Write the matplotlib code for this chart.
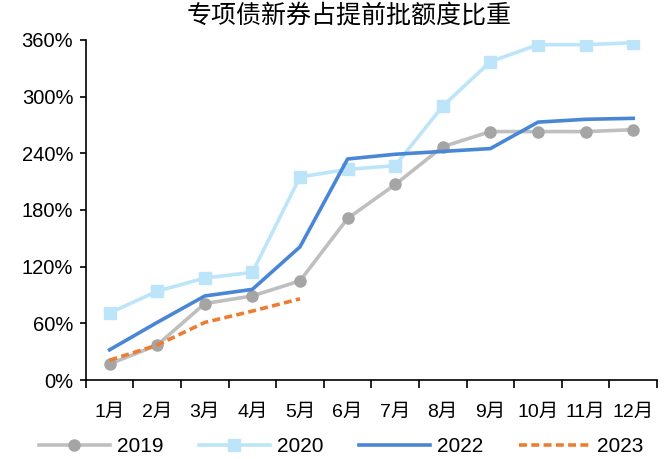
import matplotlib.pyplot as plt
import numpy as np
from matplotlib.ticker import FuncFormatter, FixedLocator

plt.rcParams["font.family"] = ["Liberation Sans", "Noto Sans CJK SC", "DejaVu Sans"]

months = ["1月", "2月", "3月", "4月", "5月", "6月", "7月", "8月", "9月", "10月", "11月", "12月"]
y2019 = [17, 37, 81, 89, 105, 171, 207, 247, 263, 263, 263, 265]
y2020 = [71, 94, 108, 114, 215, 223, 227, 290, 337, 355, 355, 357]
y2022 = [32, 61, 89, 96, 141, 234, 239, 242, 245, 273, 276, 277]
y2023 = [21, 37, 61, 73, 86]

fig = plt.figure(figsize=(6.65, 4.59), dpi=100)
ax = fig.add_axes([0.129, 0.172, 0.859, 0.741])

x = np.arange(len(months))
ax.plot(x, y2019, color="#BFBFBF", lw=2.6, marker="o", ms=8,
        mfc="#A5A5A5", mec="#A5A5A5", label="2019")
ax.plot(x, y2020, color="#BDE5FA", lw=2.6, marker="s", ms=8,
        mfc="#BDE5FA", mec="#BDE5FA", label="2020")
ax.plot(x, y2022, color="#4A86D6", lw=2.6, label="2022")
ax.plot(x[:len(y2023)], y2023, color="#ED7D31", lw=2.6, ls=(0, (2.2, 1.2)), label="2023")

ax.set_xlim(-0.5, 11.5)
ax.set_ylim(0, 360)
ax.set_yticks(np.arange(0, 361, 60))
ax.yaxis.set_major_formatter(FuncFormatter(lambda v, p: f"{v:.0f}%"))
ax.set_xticks(x)
ax.set_xticklabels(months)
ax.xaxis.set_minor_locator(FixedLocator(np.arange(-0.5, 12, 1)))
ax.tick_params(axis="x", which="major", length=0, pad=17, labelsize=14)
ax.tick_params(axis="x", which="minor", length=6, direction="out", width=1.2)
ax.tick_params(axis="y", length=4, direction="out", labelsize=14.5, width=1.2, pad=5)
for s in ["top", "right"]:
    ax.spines[s].set_visible(False)
for s in ["left", "bottom"]:
    ax.spines[s].set_linewidth(1.2)

fig.text(0.525, 0.965, "专项债新券占提前批额度比重", fontsize=18, ha="center", va="center",
         family=["Noto Sans CJK SC", "DejaVu Sans"])

fig.legend(loc="lower center", bbox_to_anchor=(0.513, -0.035), ncol=4, frameon=False,
           fontsize=15, handlelength=3.4, columnspacing=1.7, handletextpad=0.35)

fig.savefig("out.png", dpi=100)
